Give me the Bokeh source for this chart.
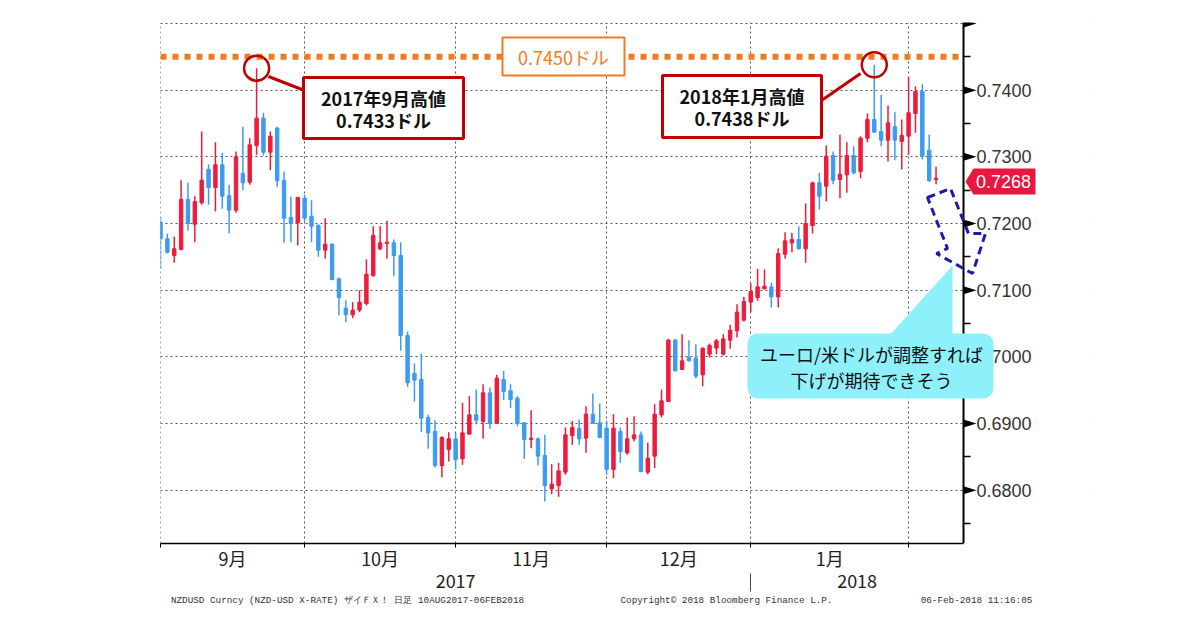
from bokeh.plotting import figure
from bokeh.models import (Range1d, LinearAxis, FixedTicker, Grid, BoxAnnotation,
                          Label, PolyAnnotation, NumeralTickFormatter, ColumnDataSource, Arrow)
from bokeh.embed import file_html
from bokeh.resources import INLINE

# ---------------- data (NZD/USD daily, 2017-09-01 .. 2018-02-06) ----------------
opens = [0.7202, 0.7177, 0.7152, 0.7161, 0.7236, 0.7199, 0.7231, 0.7281, 0.7254, 0.7288,
         0.7242, 0.7220, 0.7275, 0.7262, 0.7317, 0.7358, 0.7307, 0.7343, 0.7265, 0.7209,
         0.7201, 0.7238, 0.7211, 0.7197, 0.7160, 0.7169, 0.7117, 0.7073, 0.7063, 0.7070,
         0.7080, 0.7122, 0.7162, 0.7170, 0.7171, 0.7152, 0.7032, 0.6975, 0.6966, 0.6909,
         0.6888, 0.6837, 0.6861, 0.6877, 0.6847, 0.6884, 0.6913, 0.6903, 0.6946, 0.6900,
         0.6966, 0.6949, 0.6938, 0.6901, 0.6876, 0.6877, 0.6852, 0.6802, 0.6807, 0.6827,
         0.6882, 0.6893, 0.6878, 0.6914, 0.6901, 0.6893, 0.6831, 0.6888, 0.6856, 0.6877,
         0.6883, 0.6827, 0.6851, 0.6913, 0.6933, 0.7025, 0.6981, 0.6999, 0.6998, 0.6973,
         0.7004, 0.7013, 0.7004, 0.7025, 0.7039, 0.7055, 0.7082, 0.7089, 0.7102, 0.7105,
         0.7090, 0.7154, 0.7171, 0.7176, 0.7162, 0.7197, 0.7261, 0.7256, 0.7302, 0.7266,
         0.7273, 0.7302, 0.7278, 0.7328, 0.7356, 0.7338, 0.7325, 0.7345, 0.7323, 0.7331,
         0.7365, 0.7398, 0.7310, 0.7266]
highs = [0.7210, 0.7185, 0.7180, 0.7265, 0.7261, 0.7241, 0.7338, 0.7289, 0.7322, 0.7306,
         0.7258, 0.7308, 0.7345, 0.7328, 0.7433, 0.7366, 0.7338, 0.7345, 0.7278, 0.7240,
         0.7240, 0.7243, 0.7235, 0.7199, 0.7208, 0.7170, 0.7119, 0.7085, 0.7082, 0.7100,
         0.7146, 0.7196, 0.7196, 0.7204, 0.7176, 0.7172, 0.7038, 0.6990, 0.7005, 0.6913,
         0.6905, 0.6881, 0.6887, 0.6886, 0.6931, 0.6941, 0.6951, 0.6959, 0.6954, 0.6973,
         0.6979, 0.6959, 0.6941, 0.6902, 0.6920, 0.6879, 0.6883, 0.6839, 0.6841, 0.6894,
         0.6904, 0.6906, 0.6926, 0.6945, 0.6930, 0.6904, 0.6914, 0.6894, 0.6909, 0.6911,
         0.6888, 0.6871, 0.6929, 0.6951, 0.7027, 0.7027, 0.7034, 0.7025, 0.7019, 0.7014,
         0.7020, 0.7027, 0.7034, 0.7048, 0.7079, 0.7090, 0.7110, 0.7132, 0.7131, 0.7111,
         0.7163, 0.7187, 0.7186, 0.7196, 0.7230, 0.7263, 0.7276, 0.7317, 0.7308, 0.7333,
         0.7322, 0.7316, 0.7331, 0.7365, 0.7438, 0.7393, 0.7377, 0.7367, 0.7356, 0.7420,
         0.7406, 0.7409, 0.7333, 0.7285]
lows = [0.7132, 0.7155, 0.7141, 0.7160, 0.7189, 0.7172, 0.7228, 0.7228, 0.7218, 0.7222,
        0.7185, 0.7216, 0.7250, 0.7258, 0.7303, 0.7302, 0.7280, 0.7255, 0.7171, 0.7172,
        0.7167, 0.7203, 0.7172, 0.7150, 0.7147, 0.7115, 0.7062, 0.7052, 0.7058, 0.7067,
        0.7077, 0.7120, 0.7160, 0.7147, 0.7121, 0.7009, 0.6955, 0.6933, 0.6887, 0.6862,
        0.6834, 0.6819, 0.6843, 0.6831, 0.6838, 0.6884, 0.6899, 0.6877, 0.6892, 0.6900,
        0.6935, 0.6923, 0.6896, 0.6847, 0.6863, 0.6837, 0.6783, 0.6794, 0.6790, 0.6823,
        0.6868, 0.6868, 0.6856, 0.6901, 0.6878, 0.6823, 0.6818, 0.6841, 0.6853, 0.6873,
        0.6827, 0.6824, 0.6833, 0.6909, 0.6933, 0.6978, 0.6981, 0.6993, 0.6968, 0.6956,
        0.6999, 0.7004, 0.7002, 0.7012, 0.7029, 0.7053, 0.7067, 0.7084, 0.7101, 0.7074,
        0.7074, 0.7147, 0.7157, 0.7161, 0.7141, 0.7185, 0.7221, 0.7233, 0.7259, 0.7238,
        0.7246, 0.7274, 0.7268, 0.7322, 0.7337, 0.7316, 0.7293, 0.7295, 0.7281, 0.7303,
        0.7336, 0.7296, 0.7263, 0.7259]
closes = [0.7177, 0.7157, 0.7162, 0.7236, 0.7200, 0.7233, 0.7265, 0.7254, 0.7288, 0.7241,
          0.7220, 0.7300, 0.7261, 0.7318, 0.7358, 0.7307, 0.7331, 0.7264, 0.7208, 0.7200,
          0.7239, 0.7208, 0.7196, 0.7160, 0.7169, 0.7116, 0.7089, 0.7063, 0.7070, 0.7082,
          0.7124, 0.7182, 0.7171, 0.7172, 0.7152, 0.7032, 0.6961, 0.6965, 0.6908, 0.6886,
          0.6837, 0.6879, 0.6877, 0.6846, 0.6886, 0.6913, 0.6905, 0.6946, 0.6900, 0.6968,
          0.6948, 0.6936, 0.6900, 0.6876, 0.6878, 0.6851, 0.6807, 0.6809, 0.6829, 0.6883,
          0.6894, 0.6877, 0.6914, 0.6900, 0.6879, 0.6831, 0.6893, 0.6858, 0.6877, 0.6883,
          0.6828, 0.6848, 0.6914, 0.6934, 0.7025, 0.6979, 0.6994, 0.6994, 0.6971, 0.7013,
          0.7017, 0.7024, 0.7027, 0.7040, 0.7067, 0.7083, 0.7098, 0.7105, 0.7106, 0.7090,
          0.7155, 0.7174, 0.7176, 0.7162, 0.7200, 0.7261, 0.7241, 0.7301, 0.7265, 0.7274,
          0.7302, 0.7276, 0.7328, 0.7356, 0.7337, 0.7325, 0.7351, 0.7325, 0.7332, 0.7366,
          0.7398, 0.7301, 0.7264, 0.7268]

month_starts = [0, 21, 43, 65, 86, 109]          # first trading day of Sep..Feb
month_labels = ["9月", "10月", "11月", "12月", "1月"]
year_labels = ["2017", "2018"]
year_split = 86
price_ticks = [0.68, 0.69, 0.70, 0.71, 0.72, 0.73, 0.74]
price_grid = [0.68, 0.69, 0.70, 0.71, 0.72, 0.73, 0.74, 0.75]
price_minor = [0.675, 0.685, 0.695, 0.705, 0.715, 0.725, 0.735, 0.745]
level_price = 0.7450
level_text = "0.7450ドル"
high1_text = ["2017年9月高値", "0.7433ドル"]
high2_text = ["2018年1月高値", "0.7438ドル"]
note_text = ["ユーロ/米ドルが調整すれば", "下げが期待できそう"]
footer_texts = ["NZDUSD Curncy (NZD-USD X-RATE) ザイＦＸ！ 日足 10AUG2017-06FEB2018",
                "Copyright© 2018 Bloomberg Finance L.P.",
                "06-Feb-2018 11:16:05"]

# ---------------- geometry ----------------
W, H = 1192, 622
XA = 117                       # x position of the price axis (data units)
FL, FT = 160, 22               # frame left / top (px)
PX_PER_Y = 520 / 0.078         # px per price unit
Y_MIN = 0.672
Y_MAX = 0.75 + 1 / PX_PER_Y    # 0.7500 sits 1px inside the frame
AX = 963                       # px of the price axis
FR = W - 100                   # frame right (px), frame extends past the axis
X_END = XA * (FR - FL) / (AX - FL)
FB = FT + (Y_MAX - Y_MIN) * PX_PER_Y


def dx(px):
    return (px - FL) * XA / (AX - FL)


def dy(py):
    return Y_MAX - (py - FT) / PX_PER_Y


RED = "#ef1b3c"
BLUE = "#3d9bef"
DARKRED = "#c00000"
ORANGE = "#f47a20"
CYAN = "#8ef0fa"
GRID = "#555555"
JP = "Noto Sans CJK JP"

p = figure(width=W, height=H, x_range=Range1d(-0.001, X_END), y_range=Range1d(Y_MIN, Y_MAX),
           output_backend="svg", toolbar_location=None,
           x_axis_location=None, y_axis_location=None,
           min_border_left=FL, min_border_right=W - FR,
           min_border_top=FT, min_border_bottom=int(round(H - FB)),
           background_fill_color="white", border_fill_color="white", outline_line_color=None)
p.extra_x_ranges = {"px": Range1d(FL, FR)}
p.center = [r for r in p.center if not isinstance(r, Grid)]

# grids (month boundaries, price levels)
p.add_layout(Grid(dimension=0, ticker=FixedTicker(ticks=month_starts),
                  grid_line_color=GRID, grid_line_dash="2 3", grid_line_width=1))
p.add_layout(Grid(dimension=1, ticker=FixedTicker(ticks=price_grid),
                  grid_line_color=GRID, grid_line_dash="2 3", grid_line_width=1))
# keep the area right of the price axis clean
p.add_layout(BoxAnnotation(left=XA, fill_color="white", fill_alpha=1, line_alpha=0,
                           level="underlay"))

# bottom axis: month names centred, boundary ticks as minor ticks
centers = [(a + b) / 2 for a, b in zip(month_starts[:-1], month_starts[1:])]
xaxis = LinearAxis(bounds=(0, XA), ticker=FixedTicker(ticks=centers, minor_ticks=month_starts),
                   major_label_overrides={c: m for c, m in zip(centers, month_labels)},
                   axis_line_color="black", axis_line_width=1.5,
                   major_tick_line_color=None, major_tick_out=0, major_tick_in=0,
                   minor_tick_line_color="black", minor_tick_out=4, minor_tick_in=0,
                   major_label_standoff=-3, major_label_text_font_size="18px",
                   major_label_text_font=JP, major_label_text_color="#222222")
p.add_layout(xaxis, "below")

# year row with separator
year_centers = [year_split / 2, (year_split + XA) / 2]
yearaxis = LinearAxis(bounds=(0, XA),
                      ticker=FixedTicker(ticks=year_centers, minor_ticks=[year_split]),
                      major_label_overrides={c: t for c, t in zip(year_centers, year_labels)},
                      axis_line_color=None, major_tick_line_color=None,
                      major_tick_out=0, major_tick_in=0,
                      minor_tick_line_color="#444444", minor_tick_out=18, minor_tick_in=0,
                      major_label_standoff=-18, major_label_text_font_size="18px",
                      major_label_text_font=JP, major_label_text_color="#222222")
p.add_layout(yearaxis, "below")

# footer row (pixel range)
footer_centers = [347, 726, 976]
footaxis = LinearAxis(x_range_name="px", ticker=FixedTicker(ticks=footer_centers),
                      major_label_overrides={c: t for c, t in zip(footer_centers, footer_texts)},
                      axis_line_color=None, major_tick_line_color=None,
                      major_tick_out=0, major_tick_in=0, minor_tick_line_color=None,
                      minor_tick_out=0, minor_tick_in=0,
                      major_label_standoff=4, major_label_text_font_size="9.3px",
                      major_label_text_font="Liberation Mono", major_label_text_color="#333333")
p.add_layout(footaxis, "below")

# price axis, drawn at x = XA
yaxis = LinearAxis(fixed_location=XA,
                   ticker=FixedTicker(ticks=price_ticks, minor_ticks=price_minor),
                   formatter=NumeralTickFormatter(format="0.0000"),
                   axis_line_color="black", axis_line_width=2,
                   major_tick_line_color=None, major_tick_out=0, major_tick_in=0,
                   minor_tick_line_color="black", minor_tick_line_width=1.5,
                   minor_tick_out=7, minor_tick_in=0,
                   major_label_standoff=6, major_label_text_font_size="18px",
                   major_label_text_font="Liberation Sans", major_label_text_color="#333333")
p.add_layout(yaxis, "right")

# triangle markers on the price axis
tw, th = dx(FL + 13), 4 / PX_PER_Y
for v in price_grid:
    p.add_layout(PolyAnnotation(xs=[XA, XA + tw, XA], ys=[v + th, v, v - th],
                                fill_color="black", fill_alpha=1, line_alpha=0))

# candles
idx = list(range(len(opens)))
colors = [RED if c >= o else BLUE for o, c in zip(opens, closes)]
src = ColumnDataSource(dict(x=idx, h=highs, l=lows,
                            top=[max(o, c) for o, c in zip(opens, closes)],
                            bottom=[min(o, c) for o, c in zip(opens, closes)],
                            color=colors))
p.segment(x0="x", y0="l", x1="x", y1="h", line_color="color", line_width=1.5, source=src)
p.vbar(x="x", width=0.5, top="top", bottom="bottom", fill_color="color",
       line_color="color", line_width=1, source=src)

# 0.7450 level line
p.line(x=[0, XA], y=[level_price, level_price], line_color=ORANGE, line_width=6, line_dash="6 6")
p.add_layout(BoxAnnotation(left=dx(502), right=dx(624), top=dy(37), bottom=dy(75),
                           fill_color="white", fill_alpha=1, line_color=ORANGE,
                           line_alpha=1, line_width=2))
p.add_layout(Label(x=dx(563), y=dy(56), text=level_text, text_align="center",
                   text_baseline="middle", text_font_size="18px", text_font=JP,
                   text_color=ORANGE))

# highs: circles + callouts
i1 = highs.index(max(highs[:month_starts[1]]))
i2 = highs.index(max(highs))
p.scatter(x=[i1, i2], y=[highs[i1], highs[i2]], marker="circle", size=25,
          fill_color=None, line_color=DARKRED, line_width=2.5)

p.add_layout(Arrow(end=None, x_start=dx(268), y_start=dy(76), x_end=dx(304), y_end=dy(90),
                   line_color=DARKRED, line_width=3))
p.add_layout(Arrow(end=None, x_start=dx(860), y_start=dy(73), x_end=dx(821), y_end=dy(100),
                   line_color=DARKRED, line_width=3))

for (l, r, t, b), texts in [((303, 463, 77, 138), high1_text), ((662, 821, 75, 137), high2_text)]:
    p.add_layout(BoxAnnotation(left=dx(l), right=dx(r), top=dy(t), bottom=dy(b),
                               fill_color="white", fill_alpha=1, line_color=DARKRED,
                               line_alpha=1, line_width=3))
    cx = dx((l + r) / 2)
    for k, tx in enumerate(texts):
        p.add_layout(Label(x=cx, y=dy(t + 20 + 22 * k), text=tx, text_align="center",
                           text_baseline="middle", text_font_size="18px", text_font=JP,
                           text_font_style="bold", text_color="#111111"))

# blue dashed arrow
arrow_px = [(927, 197), (950, 188), (968, 233), (985, 233), (972, 273), (936, 253), (947, 248)]
p.add_layout(PolyAnnotation(xs=[dx(a) for a, _ in arrow_px], ys=[dy(b) for _, b in arrow_px],
                            fill_alpha=0, line_color="#1c1ca8", line_alpha=1,
                            line_width=3, line_dash="8 5"))

# cyan note
p.add_layout(PolyAnnotation(xs=[dx(888), dx(952), dx(952)], ys=[dy(336), dy(265), dy(336)],
                            fill_color=CYAN, fill_alpha=1, line_alpha=0))
p.add_layout(BoxAnnotation(left=dx(747), right=dx(993), top=dy(333), bottom=dy(398),
                           fill_color=CYAN, fill_alpha=1, line_alpha=0, border_radius=10))
for k, tx in enumerate(note_text):
    p.add_layout(Label(x=dx(871), y=dy(353 + 26 * k), text=tx, text_align="center",
                       text_baseline="middle", text_font_size="18px", text_font=JP,
                       text_color="#111111"))

# last price tag
last = closes[-1]
tag_y = 181
p.add_layout(PolyAnnotation(xs=[dx(965), dx(973), dx(1035), dx(1035), dx(973)],
                            ys=[dy(tag_y), dy(tag_y - 13), dy(tag_y - 13), dy(tag_y + 13), dy(tag_y + 13)],
                            fill_color="#e8173f", fill_alpha=1, line_alpha=0))
p.add_layout(Label(x=dx(1003), y=dy(tag_y), text=f"{last:.4f}", text_align="center",
                   text_baseline="middle", text_font_size="18px", text_font="Liberation Sans",
                   text_color="white"))

open("out.html", "w").write(file_html(p, INLINE))
